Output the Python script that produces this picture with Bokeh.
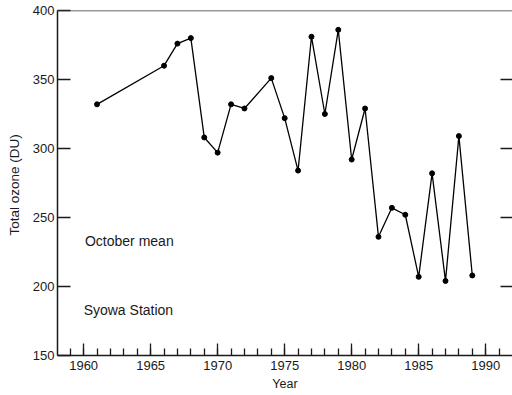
from bokeh.plotting import figure
from bokeh.models import LinearAxis, FixedTicker, Span, Label, Range1d
from bokeh.embed import file_html
from bokeh.resources import INLINE

# October mean total ozone at Syowa Station (Dobson units)
years = [1961, 1966, 1967, 1968, 1969, 1970, 1971, 1972, 1974, 1975, 1976, 1977,
         1978, 1979, 1980, 1981, 1982, 1983, 1984, 1985, 1986, 1987, 1988, 1989]
ozone = [332, 360, 376, 380, 308, 297, 332, 329, 351, 322, 284, 381,
         325, 386, 292, 329, 236, 257, 252, 207, 282, 204, 309, 208]

x_major_ticks = [1960, 1965, 1970, 1975, 1980, 1985, 1990]
x_minor_ticks = list(range(1959, 1992))
y_ticks = [150, 200, 250, 300, 350, 400]
y_right_ticks = [200, 250, 300, 350]

FONT = "Liberation Sans"
INK = "#1a1a1a"

p = figure(width=512, height=395, output_backend="svg", toolbar_location=None,
           x_range=Range1d(1958.05, 1992.0), y_range=Range1d(150, 400),
           min_border_left=57, min_border_top=10, min_border_right=0,
           min_border_bottom=40)
p.xgrid.visible = False
p.ygrid.visible = False
p.outline_line_color = None
p.background_fill_color = "white"
p.border_fill_color = "white"

# bottom axis: long ticks every 5 years, short ticks every year, all pointing inward
xa = p.xaxis[0]
xa.ticker = FixedTicker(ticks=x_major_ticks, minor_ticks=x_minor_ticks)
xa.major_tick_in = 12
xa.major_tick_out = 0
xa.minor_tick_in = 7
xa.minor_tick_out = 0
xa.axis_line_width = 1.5
xa.axis_line_color = INK
xa.major_tick_line_color = INK
xa.minor_tick_line_color = INK
xa.major_tick_line_width = 1.3
xa.minor_tick_line_width = 1.3
xa.axis_label = "Year"
xa.axis_label_text_font = FONT
xa.axis_label_text_font_style = "normal"
xa.axis_label_text_font_size = "12.5px"
xa.axis_label_text_color = INK
xa.axis_label_standoff = 4
xa.major_label_text_font = FONT
xa.major_label_text_font_size = "13px"
xa.major_label_text_color = INK
xa.major_label_standoff = 5

# left axis
ya = p.yaxis[0]
ya.ticker = FixedTicker(ticks=y_ticks, minor_ticks=[])
ya.major_tick_in = 13
ya.major_tick_out = 0
ya.axis_line_width = 1.5
ya.axis_line_color = INK
ya.major_tick_line_color = INK
ya.major_tick_line_width = 1.3
ya.axis_label = "Total ozone  (DU)"
ya.axis_label_text_font = FONT
ya.axis_label_text_font_style = "normal"
ya.axis_label_text_font_size = "13.5px"
ya.axis_label_text_color = INK
ya.axis_label_standoff = 8
ya.major_label_text_font = FONT
ya.major_label_text_font_size = "13px"
ya.major_label_text_color = INK
ya.major_label_standoff = 3

# right side: unlabeled inward tick marks only
ra = LinearAxis(ticker=FixedTicker(ticks=[], minor_ticks=y_right_ticks),
                major_tick_in=0, major_tick_out=0, minor_tick_in=12, minor_tick_out=0,
                minor_tick_line_width=1.3, minor_tick_line_color=INK,
                axis_line_color=None, major_label_standoff=0)
p.add_layout(ra, "right")

# top frame line
p.add_layout(Span(location=400, dimension="width", line_color="#333333", line_width=1.5))

p.line(years, ozone, line_color="black", line_width=1.3)
p.scatter(years, ozone, size=5, color="black")

p.add_layout(Label(x=1960.1, y=233, text="October mean", text_font=FONT,
                   text_font_size="14px", text_baseline="middle", text_color=INK))
p.add_layout(Label(x=1960.0, y=183, text="Syowa Station", text_font=FONT,
                   text_font_size="14px", text_baseline="middle", text_color=INK))

open("out.html", "w").write(file_html(p, INLINE))
